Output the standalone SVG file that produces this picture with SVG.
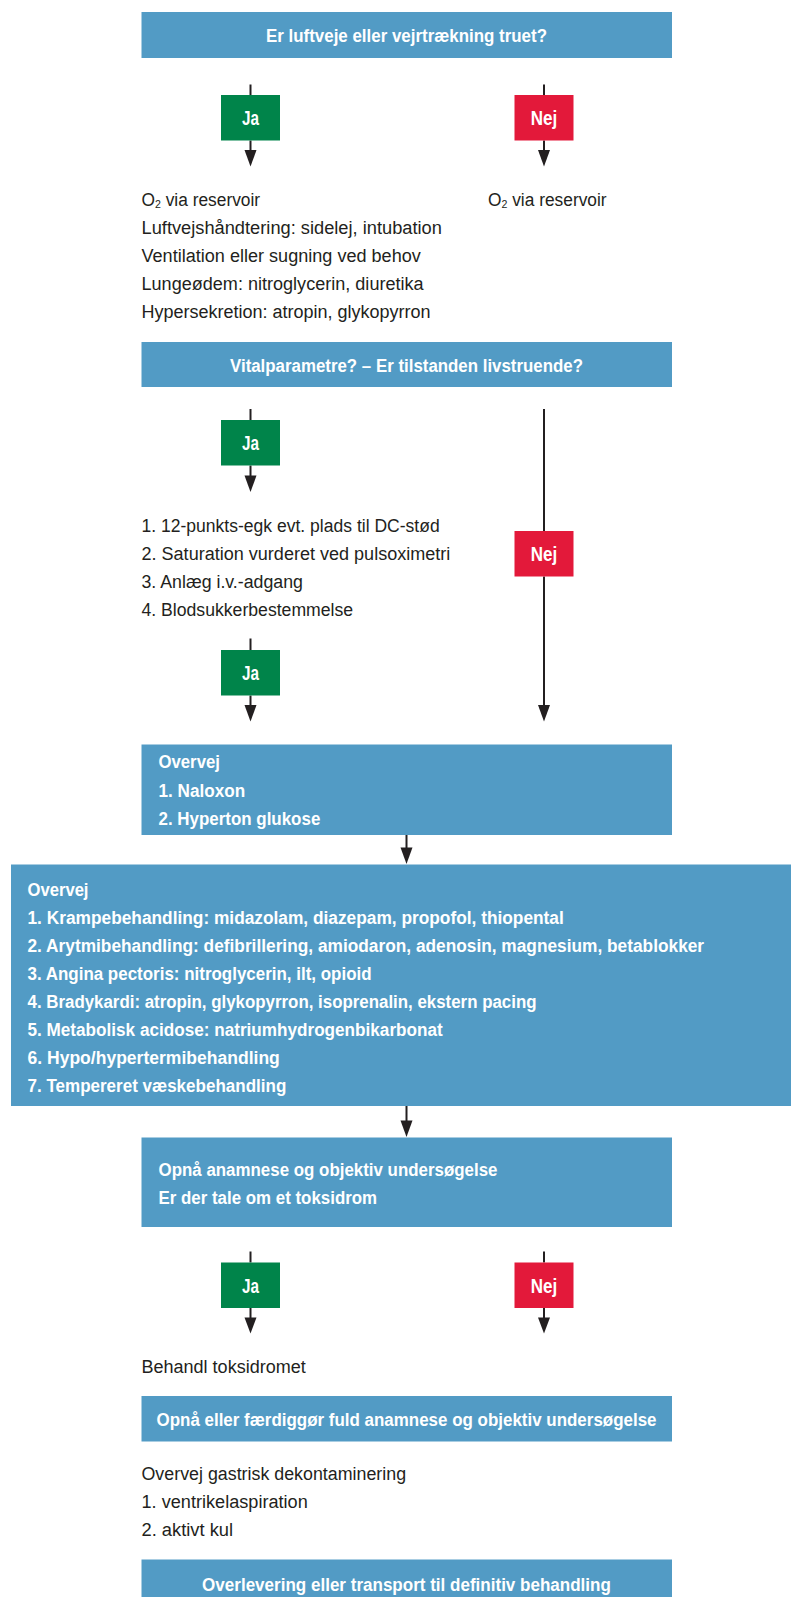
<svg xmlns="http://www.w3.org/2000/svg" width="791" height="1597" viewBox="0 0 791 1597">
<style>
.box{fill:#529bc5}
.ja{fill:#00844a}
.nej{fill:#e3193a}
.bt{font-family:"Liberation Sans",Arial,sans-serif;font-weight:bold;font-size:18px;fill:#ffffff}
.bc{font-family:"Liberation Sans",Arial,sans-serif;font-weight:bold;font-size:18px;fill:#ffffff;text-anchor:middle}
.yn{font-family:"Liberation Sans",Arial,sans-serif;font-weight:bold;font-size:19.5px;fill:#ffffff;text-anchor:middle}
.t{font-family:"Liberation Sans",Arial,sans-serif;font-size:18px;fill:#231f20}
.ln{stroke:#231f20;stroke-width:2;fill:none}
.ah{fill:#231f20}
</style>

<g id="connectors">
<line class="ln" x1="250.5" y1="84.5" x2="250.5" y2="95"/>
<line class="ln" x1="250.5" y1="140.5" x2="250.5" y2="150.5"/><path class="ah" d="M244.5,150 L256.5,150 L250.5,166.5 Z"/>
<line class="ln" x1="544" y1="84.5" x2="544" y2="95"/>
<line class="ln" x1="544" y1="140.5" x2="544" y2="150.5"/><path class="ah" d="M538,150 L550,150 L544,166.5 Z"/>

<line class="ln" x1="250.5" y1="409" x2="250.5" y2="420"/>
<line class="ln" x1="250.5" y1="465.5" x2="250.5" y2="476"/><path class="ah" d="M244.5,475.5 L256.5,475.5 L250.5,492 Z"/>
<line class="ln" x1="544" y1="409" x2="544" y2="531"/>
<line class="ln" x1="544" y1="576.5" x2="544" y2="706"/><path class="ah" d="M538,705 L550,705 L544,721.5 Z"/>
<line class="ln" x1="250.5" y1="638.5" x2="250.5" y2="650"/>
<line class="ln" x1="250.5" y1="695.5" x2="250.5" y2="706"/><path class="ah" d="M244.5,705 L256.5,705 L250.5,721.5 Z"/>

<line class="ln" x1="406.5" y1="835" x2="406.5" y2="848"/><path class="ah" d="M400.5,847.5 L412.5,847.5 L406.5,864 Z"/>
<line class="ln" x1="406.5" y1="1106" x2="406.5" y2="1121"/><path class="ah" d="M400.5,1120.5 L412.5,1120.5 L406.5,1137 Z"/>

<line class="ln" x1="250.5" y1="1251.5" x2="250.5" y2="1262.5"/>
<line class="ln" x1="250.5" y1="1308" x2="250.5" y2="1318"/><path class="ah" d="M244.5,1317.5 L256.5,1317.5 L250.5,1333.5 Z"/>
<line class="ln" x1="544" y1="1251.5" x2="544" y2="1262.5"/>
<line class="ln" x1="544" y1="1308" x2="544" y2="1318"/><path class="ah" d="M538,1317.5 L550,1317.5 L544,1333.5 Z"/>
</g>

<g id="q1">
<rect class="box" x="141.5" y="12" width="530.5" height="46"/>
<text class="bc" x="406.5" y="42" textLength="281" lengthAdjust="spacingAndGlyphs">Er luftveje eller vejrtrækning truet?</text>
</g>
<g id="ja1">
<rect class="ja" x="221" y="95" width="59" height="45.5"/>
<text class="yn" x="250.5" y="125" textLength="17" lengthAdjust="spacingAndGlyphs">Ja</text>
</g>
<g id="nej1">
<rect class="nej" x="514.5" y="95" width="59" height="45.5"/>
<text class="yn" x="544" y="125" textLength="26.5" lengthAdjust="spacingAndGlyphs">Nej</text>
</g>
<g id="ja1-text">
<text class="t" x="141.5" y="205.5" textLength="118.6" lengthAdjust="spacingAndGlyphs">O<tspan font-size="11" dy="2.5">2</tspan><tspan dy="-2.5"> via reservoir</tspan></text>
<text class="t" x="141.5" y="233.5" textLength="300.4" lengthAdjust="spacingAndGlyphs">Luftvejshåndtering: sidelej, intubation</text>
<text class="t" x="141.5" y="261.8" textLength="279.3" lengthAdjust="spacingAndGlyphs">Ventilation eller sugning ved behov</text>
<text class="t" x="141.5" y="290" textLength="282.1" lengthAdjust="spacingAndGlyphs">Lungeødem: nitroglycerin, diuretika</text>
<text class="t" x="141.5" y="318" textLength="289" lengthAdjust="spacingAndGlyphs">Hypersekretion: atropin, glykopyrron</text>
</g>
<g id="nej1-text">
<text class="t" x="488" y="205.5" textLength="118.6" lengthAdjust="spacingAndGlyphs">O<tspan font-size="11" dy="2.5">2</tspan><tspan dy="-2.5"> via reservoir</tspan></text>
</g>

<g id="q2">
<rect class="box" x="141.5" y="342" width="530.5" height="45"/>
<text class="bc" x="406.5" y="371.5" textLength="353" lengthAdjust="spacingAndGlyphs">Vitalparametre? – Er tilstanden livstruende?</text>
</g>
<g id="ja2">
<rect class="ja" x="221" y="420" width="59" height="45.5"/>
<text class="yn" x="250.5" y="450" textLength="17" lengthAdjust="spacingAndGlyphs">Ja</text>
</g>
<g id="ja2-text">
<text class="t" x="141.5" y="532" textLength="298.2" lengthAdjust="spacingAndGlyphs">1. 12-punkts-egk evt. plads til DC-stød</text>
<text class="t" x="141.5" y="560" textLength="308.8" lengthAdjust="spacingAndGlyphs">2. Saturation vurderet ved pulsoximetri</text>
<text class="t" x="141.5" y="588" textLength="161.4" lengthAdjust="spacingAndGlyphs">3. Anlæg i.v.-adgang</text>
<text class="t" x="141.5" y="616" textLength="211.6" lengthAdjust="spacingAndGlyphs">4. Blodsukkerbestemmelse</text>
</g>
<g id="nej2">
<rect class="nej" x="514.5" y="531" width="59" height="45.5"/>
<text class="yn" x="544" y="561" textLength="26.5" lengthAdjust="spacingAndGlyphs">Nej</text>
</g>
<g id="ja3">
<rect class="ja" x="221" y="650" width="59" height="45.5"/>
<text class="yn" x="250.5" y="680" textLength="17" lengthAdjust="spacingAndGlyphs">Ja</text>
</g>

<g id="overvej1">
<rect class="box" x="141.5" y="744.5" width="530.5" height="90.5"/>
<text class="bt" x="158.5" y="768" textLength="61.4" lengthAdjust="spacingAndGlyphs">Overvej</text>
<text class="bt" x="158.5" y="796.5" textLength="86.7" lengthAdjust="spacingAndGlyphs">1. Naloxon</text>
<text class="bt" x="158.5" y="824.5" textLength="161.8" lengthAdjust="spacingAndGlyphs">2. Hyperton glukose</text>
</g>

<g id="overvej2">
<rect class="box" x="11" y="864.5" width="780" height="241.5"/>
<text class="bt" x="27.5" y="895.5" textLength="61" lengthAdjust="spacingAndGlyphs">Overvej</text>
<text class="bt" x="27.5" y="923.5" textLength="536.3" lengthAdjust="spacingAndGlyphs">1. Krampebehandling: midazolam, diazepam, propofol, thiopental</text>
<text class="bt" x="27.5" y="951.7" textLength="676.6" lengthAdjust="spacingAndGlyphs">2. Arytmibehandling: defibrillering, amiodaron, adenosin, magnesium, betablokker</text>
<text class="bt" x="27.5" y="979.8" textLength="344.1" lengthAdjust="spacingAndGlyphs">3. Angina pectoris: nitroglycerin, ilt, opioid</text>
<text class="bt" x="27.5" y="1008" textLength="509" lengthAdjust="spacingAndGlyphs">4. Bradykardi: atropin, glykopyrron, isoprenalin, ekstern pacing</text>
<text class="bt" x="27.5" y="1036" textLength="415.2" lengthAdjust="spacingAndGlyphs">5. Metabolisk acidose: natriumhydrogenbikarbonat</text>
<text class="bt" x="27.5" y="1064" textLength="252.3" lengthAdjust="spacingAndGlyphs">6. Hypo/hypertermibehandling</text>
<text class="bt" x="27.5" y="1092" textLength="258.8" lengthAdjust="spacingAndGlyphs">7. Tempereret væskebehandling</text>
</g>

<g id="q3">
<rect class="box" x="141.5" y="1137.5" width="530.5" height="89.5"/>
<text class="bt" x="158.5" y="1175.5" textLength="339" lengthAdjust="spacingAndGlyphs">Opnå anamnese og objektiv undersøgelse</text>
<text class="bt" x="158.5" y="1204" textLength="218.6" lengthAdjust="spacingAndGlyphs">Er der tale om et toksidrom</text>
</g>
<g id="ja4">
<rect class="ja" x="221" y="1262.5" width="59" height="45.5"/>
<text class="yn" x="250.5" y="1292.5" textLength="17" lengthAdjust="spacingAndGlyphs">Ja</text>
</g>
<g id="nej4">
<rect class="nej" x="514.5" y="1262.5" width="59" height="45.5"/>
<text class="yn" x="544" y="1292.5" textLength="26.5" lengthAdjust="spacingAndGlyphs">Nej</text>
</g>
<g id="ja4-text">
<text class="t" x="141.5" y="1372.5" textLength="164.2" lengthAdjust="spacingAndGlyphs">Behandl toksidromet</text>
</g>

<g id="q4">
<rect class="box" x="141.5" y="1396" width="530.5" height="45.5"/>
<text class="bc" x="406.5" y="1426" textLength="500" lengthAdjust="spacingAndGlyphs">Opnå eller færdiggør fuld anamnese og objektiv undersøgelse</text>
</g>
<g id="q4-text">
<text class="t" x="141.5" y="1479.5" textLength="264.6" lengthAdjust="spacingAndGlyphs">Overvej gastrisk dekontaminering</text>
<text class="t" x="141.5" y="1507.5" textLength="166.3" lengthAdjust="spacingAndGlyphs">1. ventrikelaspiration</text>
<text class="t" x="141.5" y="1535.5" textLength="91.6" lengthAdjust="spacingAndGlyphs">2. aktivt kul</text>
</g>

<g id="final">
<rect class="box" x="141.5" y="1559.5" width="530.5" height="37.5"/>
<text class="bc" x="406.5" y="1591" textLength="408.8" lengthAdjust="spacingAndGlyphs">Overlevering eller transport til definitiv behandling</text>
</g>
</svg>
